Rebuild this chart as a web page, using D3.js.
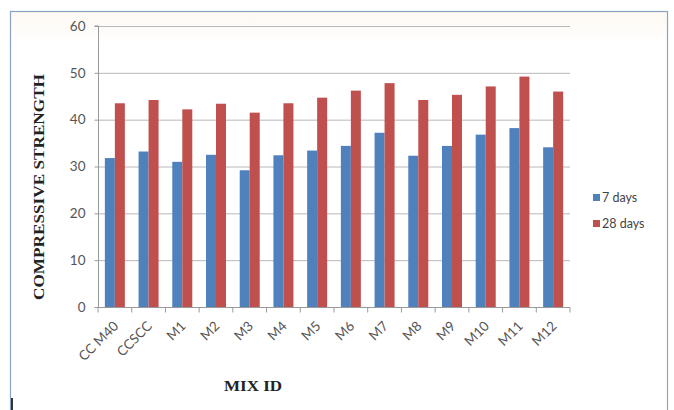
<!DOCTYPE html>
<html><head><meta charset="utf-8">
<script src="https://cdn.jsdelivr.net/npm/d3@7"></script>
<style>body{margin:0;background:#fff}svg{display:block}</style>
</head><body>
<svg id="c" width="674" height="410"></svg>
<script>
const categories = ["CC M40","CCSCC","M1","M2","M3","M4","M5","M6","M7","M8","M9","M10","M11","M12"];
const days7 = [31.8,33.2,31.0,32.5,29.2,32.4,33.4,34.4,37.2,32.3,34.4,36.8,38.2,34.1];
const days28 = [43.5,44.2,42.2,43.4,41.5,43.5,44.7,46.2,47.8,44.2,45.3,47.1,49.2,46.0];
const seriesNames = ["7 days","28 days"];
const yTicks = [0,10,20,30,40,50,60];

const colors = ["#4f81bd","#c0504d"];
const svg = d3.select("#c");
const m = {l:98, r:570, t:26, b:307};
const sans = "Lato, 'Open Sans', sans-serif";
const serif = "'Liberation Serif', 'DejaVu Serif', serif";

// background + border
const grad = svg.append("defs").append("linearGradient").attr("id","bg").attr("x1",0).attr("y1",0).attr("x2",0).attr("y2",1);
grad.append("stop").attr("offset","0").attr("stop-color","#fdf8f2");
grad.append("stop").attr("offset","0.08").attr("stop-color","#ffffff");
svg.append("rect").attr("x",10.5).attr("y",11.5).attr("width",657).attr("height",410)
  .attr("fill","url(#bg)").attr("stroke","#8aa2c4").attr("stroke-width",1.2);
svg.append("line").attr("x1",12).attr("x2",12).attr("y1",398).attr("y2",410).attr("stroke","#333").attr("stroke-width",2);

const x = d3.scaleBand().domain(categories).range([m.l,m.r]);
const y = d3.scaleLinear().domain([0,60]).range([m.b,m.t]);

// gridlines
svg.append("g").selectAll("line").data(yTicks.filter(d=>d>0)).join("line")
  .attr("x1",m.l).attr("x2",m.r).attr("y1",d=>y(d)+0.5).attr("y2",d=>y(d)+0.5)
  .attr("stroke","#b8b8b8").attr("stroke-width",1);

// bars
const bw = 10;
const sub = d3.scaleBand().domain([0,1]).range([0,bw*2]);
const series = [days7, days28];
series.forEach((vals,si)=>{
  svg.append("g").selectAll("rect").data(vals).join("rect")
    .attr("x",(d,i)=>x(categories[i])+x.bandwidth()/2-bw+sub(si))
    .attr("width",bw)
    .attr("y",d=>y(d))
    .attr("height",d=>y(0)-y(d))
    .attr("fill",colors[si]);
});

// y axis
const ya = svg.append("g").attr("transform",`translate(${m.l+0.5},0)`)
  .call(d3.axisLeft(y).tickValues(yTicks).tickSize(4).tickPadding(9));
ya.select(".domain").attr("stroke","#999").attr("d",`M-4,${m.t}H0V${m.b}`);
ya.selectAll(".tick line").attr("stroke","#999");
ya.selectAll("text").attr("font-family",sans).attr("font-size",13.5).attr("fill","#555");

// x axis
const xa = svg.append("g").attr("transform",`translate(0,${m.b+0.5})`);
xa.append("line").attr("x1",m.l).attr("x2",m.r).attr("stroke","#999");
xa.selectAll(".tk").data(d3.range(categories.length+1)).join("line")
  .attr("x1",i=>m.l+i*x.step()).attr("x2",i=>m.l+i*x.step()).attr("y1",0).attr("y2",5).attr("stroke","#999");
xa.selectAll("text").data(categories).join("text")
  .attr("transform",d=>`translate(${x(d)+x.bandwidth()/2+1},${16}) rotate(-45)`)
  .attr("text-anchor","end").attr("dy","0.35em")
  .attr("font-family",sans).attr("font-size",13.5).attr("fill","#555")
  .text(d=>d);

// axis titles
svg.append("text").attr("transform","translate(44,187) rotate(-90)").attr("text-anchor","middle")
  .attr("font-family",serif).attr("font-weight","bold").attr("font-size",15).attr("fill","#222")
  .attr("textLength",226).attr("lengthAdjust","spacingAndGlyphs")
  .text("COMPRESSIVE STRENGTH");
svg.append("text").attr("x",253).attr("y",391).attr("text-anchor","middle")
  .attr("font-family",serif).attr("font-weight","bold").attr("font-size",15).attr("fill","#222")
  .attr("textLength",58).attr("lengthAdjust","spacingAndGlyphs")
  .text("MIX ID");

// legend
const lg = svg.append("g").attr("transform","translate(593,0)");
seriesNames.forEach((n,i)=>{
  const yy = 198 + i*26;
  lg.append("rect").attr("x",0).attr("y",yy-4).attr("width",7).attr("height",7).attr("fill",colors[i]);
  lg.append("text").attr("x",9).attr("y",yy).attr("dy","0.35em")
    .attr("font-family",sans).attr("font-size",12.5).attr("fill","#444").text(n);
});
</script>
</body></html>
